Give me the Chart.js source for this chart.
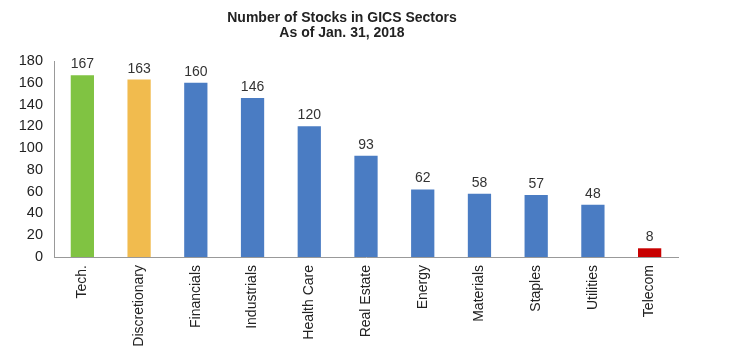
<!DOCTYPE html>
<html>
<head>
<meta charset="utf-8">
<script src="https://cdn.jsdelivr.net/npm/chart.js@4"></script>
<style>
html,body{margin:0;padding:0;background:#fff;}
#wrap{width:732px;height:355px;position:relative;}
</style>
</head>
<body>
<div id="wrap"><canvas id="c" width="732" height="355"></canvas></div>
<script>
const categories = ["Tech.", "Discretionary", "Financials", "Industrials", "Health Care", "Real Estate", "Energy", "Materials", "Staples", "Utilities", "Telecom"];
const stockCounts = [167, 163, 160, 146, 120, 93, 62, 58, 57, 48, 8];
const barColors = ["#80c342", "#f1bb4e", "#4a7cc3", "#4a7cc3", "#4a7cc3", "#4a7cc3", "#4a7cc3", "#4a7cc3", "#4a7cc3", "#4a7cc3", "#c80000"];
const titleLines = ["Number of Stocks in GICS Sectors", "As of Jan. 31, 2018"];
const yTicks = [0, 20, 40, 60, 80, 100, 120, 140, 160, 180];

const FONT = "'Liberation Sans', Arial, sans-serif";

const titlePlugin = {
  id: 'titlePlugin',
  afterDraw(chart) {
    const ctx = chart.ctx;
    ctx.save();
    ctx.font = "bold 14px " + FONT;
    ctx.fillStyle = "#222";
    ctx.textAlign = "center";
    ctx.textBaseline = "middle";
    ctx.fillText(titleLines[0], 342, 18);
    ctx.fillText(titleLines[1], 342, 33);
    ctx.restore();
  }
};

const valuePlugin = {
  id: 'valuePlugin',
  afterDatasetsDraw(chart) {
    const ctx = chart.ctx;
    const meta = chart.getDatasetMeta(0);
    ctx.save();
    ctx.font = "14px " + FONT;
    ctx.fillStyle = "#333";
    ctx.textAlign = "center";
    ctx.textBaseline = "alphabetic";
    meta.data.forEach((bar, i) => {
      ctx.fillText(String(stockCounts[i]), bar.x, bar.y - 7);
    });
    ctx.restore();
  }
};

new Chart(document.getElementById('c'), {
  type: 'bar',
  data: {
    labels: categories,
    datasets: [{
      data: stockCounts,
      backgroundColor: barColors,
      borderWidth: 0,
      categoryPercentage: 1,
      barPercentage: 0.41
    }]
  },
  options: {
    responsive: false,
    animation: false,
    layout: { padding: { top: 61, right: 54, left: 0, bottom: 0 } },
    plugins: { legend: { display: false }, tooltip: { enabled: false }, title: { display: false } },
    scales: {
      x: {
        grid: { display: false, drawTicks: false },
        border: { display: true, color: "#999", width: 1 },
        ticks: { font: { family: FONT, size: 14 }, color: "#222", maxRotation: 90, minRotation: 90, padding: 8, autoSkip: false },
        afterFit(scale) { scale.height = 98; }
      },
      y: {
        min: 0, max: 180,
        afterBuildTicks(scale) { scale.ticks = yTicks.map(v => ({ value: v })); },
        grid: { display: false, drawTicks: false },
        border: { display: true, color: "#999", width: 1 },
        ticks: { font: { family: FONT, size: 14.5 }, color: "#222", padding: 11 },
        afterFit(scale) { scale.width = 54; }
      }
    }
  },
  plugins: [titlePlugin, valuePlugin]
});
</script>
</body>
</html>
